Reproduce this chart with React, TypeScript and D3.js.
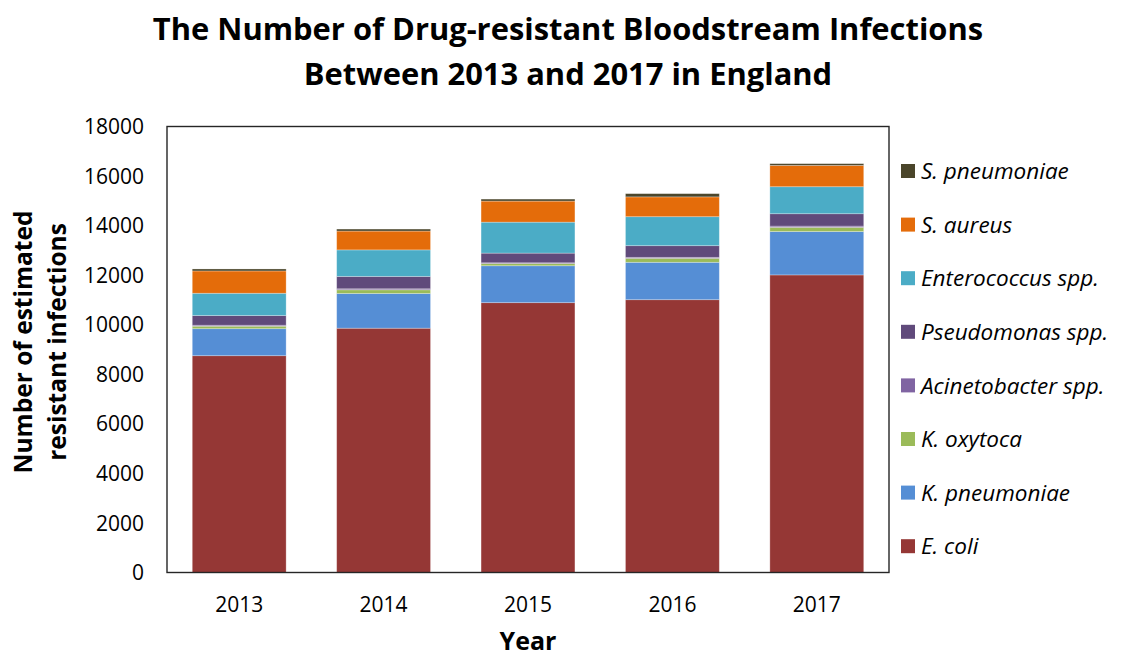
import React from "react";
import * as d3 from "d3";

const years = ["2013", "2014", "2015", "2016", "2017"];
const eColi = [8750, 9860, 10890, 11010, 12010];
const kPneumoniae = [1090, 1400, 1490, 1510, 1750];
const kOxytoca = [100, 150, 90, 160, 170];
const acinetobacter = [40, 40, 30, 40, 50];
const pseudomonas = [390, 500, 390, 470, 500];
const enterococcus = [900, 1070, 1250, 1170, 1090];
const sAureus = [900, 760, 850, 800, 860];
const sPneumoniae = [80, 80, 80, 130, 70];
const yTicks = [0, 2000, 4000, 6000, 8000, 10000, 12000, 14000, 16000, 18000];

// stacking order, bottom to top
const series = [
  { key: "E. coli", values: eColi, color: "#953735" },
  { key: "K. pneumoniae", values: kPneumoniae, color: "#558ED5" },
  { key: "K. oxytoca", values: kOxytoca, color: "#9BBB59" },
  { key: "Acinetobacter spp.", values: acinetobacter, color: "#8064A2" },
  { key: "Pseudomonas spp.", values: pseudomonas, color: "#604A7B" },
  { key: "Enterococcus spp.", values: enterococcus, color: "#4BACC6" },
  { key: "S. aureus", values: sAureus, color: "#E46C0A" },
  { key: "S. pneumoniae", values: sPneumoniae, color: "#4A452A" },
];

const W = 1131;
const H = 656;
const plot = { left: 167, right: 889, top: 126.5, bottom: 572.5 };
const FONT = "'Open Sans', Lato, sans-serif";

export default function App() {
  const x = d3
    .scaleBand<string>()
    .domain(years)
    .range([plot.left, plot.right])
    .paddingInner(0.35)
    .paddingOuter(0.175);
  const y = d3.scaleLinear().domain([0, 18000]).range([plot.bottom, plot.top]);

  const rows = years.map((yr, i) => {
    const r: Record<string, number | string> = { year: yr };
    series.forEach((s) => (r[s.key] = s.values[i]));
    return r;
  });
  const stacked = d3.stack<Record<string, number | string>>().keys(series.map((s) => s.key))(rows as any);

  const legendTop = 171;
  const legendStep = 53.6;
  const legendOrder = [...series].reverse();

  return (
    <svg width={W} height={H} style={{ position: "absolute", left: 0, top: 0, background: "#fff" }}>
      <text x={568} y={40} textAnchor="middle" fontFamily={FONT} fontWeight={700} fontSize={30.9} fill="#000">
        The Number of Drug-resistant Bloodstream Infections
      </text>
      <text x={568} y={84.5} textAnchor="middle" fontFamily={FONT} fontWeight={700} fontSize={30.9} fill="#000">
        Between 2013 and 2017 in England
      </text>

      {stacked.map((layer, si) => (
        <g key={series[si].key} fill={series[si].color}>
          {layer.map((d, i) => (
            <rect
              key={years[i]}
              x={x(years[i])}
              width={x.bandwidth()}
              y={y(d[1])}
              height={y(d[0]) - y(d[1])}
              stroke="rgba(255,255,255,0.35)"
              strokeWidth={0.8}
            />
          ))}
        </g>
      ))}

      <rect
        x={plot.left}
        y={plot.top}
        width={plot.right - plot.left}
        height={plot.bottom - plot.top}
        fill="none"
        stroke="#262626"
        strokeWidth={1.4}
      />

      {yTicks.map((t) => (
        <text key={t} x={144} y={y(t)} dy="0.36em" textAnchor="end" fontFamily={FONT} fontSize={21} fill="#000">
          {t}
        </text>
      ))}

      {years.map((yr) => (
        <text
          key={yr}
          x={(x(yr) as number) + x.bandwidth() / 2}
          y={611.5}
          textAnchor="middle"
          fontFamily={FONT}
          fontSize={21}
          fill="#000"
        >
          {yr}
        </text>
      ))}

      <text x={528} y={649.5} textAnchor="middle" fontFamily={FONT} fontWeight={700} fontSize={25} fill="#000">
        Year
      </text>

      <g transform="translate(0,342) rotate(-90)">
        <text x={0} y={32} textAnchor="middle" fontFamily={FONT} fontWeight={700} fontSize={24.5} fill="#000">
          Number of estimated
        </text>
        <text x={0} y={66} textAnchor="middle" fontFamily={FONT} fontWeight={700} fontSize={24.5} fill="#000">
          resistant infections
        </text>
      </g>

      {legendOrder.map((s, i) => {
        const cy = legendTop + i * legendStep;
        return (
          <g key={s.key}>
            <rect x={901} y={cy - 7} width={14} height={14} fill={s.color} />
            <text x={921} y={cy} dy="0.36em" fontFamily={FONT} fontStyle="italic" fontSize={22.5} fill="#000">
              {s.key}
            </text>
          </g>
        );
      })}
    </svg>
  );
}
